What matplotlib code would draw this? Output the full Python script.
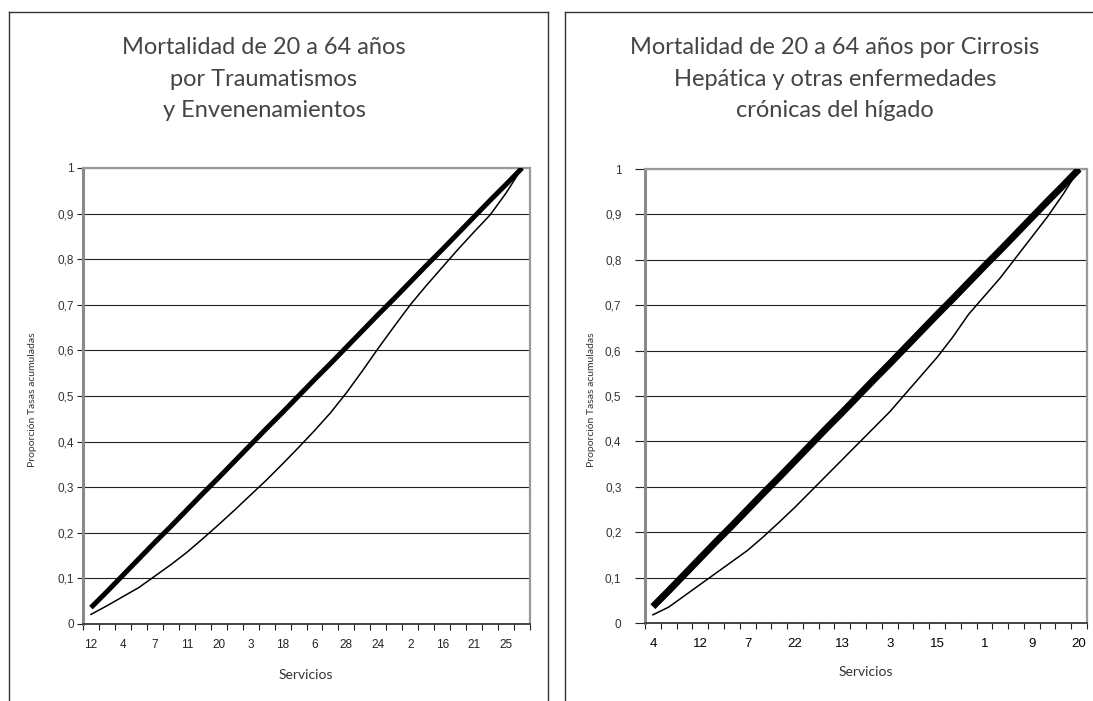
import matplotlib
matplotlib.use("Agg")
import matplotlib.pyplot as plt
from matplotlib.lines import Line2D
import numpy as np

W, H = 1093, 701

# data (28 servicios en cada grafico)
izq_etiquetas = ['12', '4', '7', '11', '20', '3', '18', '6', '28', '24', '2', '16', '21', '25']
izq_pob = [0.036, 0.071, 0.107, 0.143, 0.179, 0.214, 0.25, 0.286, 0.321, 0.357,
           0.393, 0.429, 0.464, 0.5, 0.536, 0.571, 0.607, 0.643, 0.679, 0.714,
           0.75, 0.786, 0.821, 0.857, 0.893, 0.929, 0.964, 1.0]
izq_tasas = [0.021, 0.04, 0.06, 0.08, 0.105, 0.13, 0.157, 0.187, 0.218, 0.25,
             0.283, 0.316, 0.351, 0.387, 0.424, 0.463, 0.507, 0.555, 0.605, 0.653,
             0.70, 0.742, 0.782, 0.822, 0.86, 0.897, 0.945, 1.0]

der_etiquetas = ['4', '12', '7', '22', '13', '3', '15', '1', '9', '20']
der_pob = [0.036, 0.071, 0.107, 0.143, 0.179, 0.214, 0.25, 0.286, 0.321, 0.357,
           0.393, 0.429, 0.464, 0.5, 0.536, 0.571, 0.607, 0.643, 0.679, 0.714,
           0.75, 0.786, 0.821, 0.857, 0.893, 0.929, 0.964, 1.0]
der_tasas = [0.018, 0.035, 0.06, 0.085, 0.11, 0.135, 0.16, 0.19, 0.222, 0.255,
             0.29, 0.325, 0.36, 0.395, 0.43, 0.465, 0.505, 0.545, 0.585, 0.63,
             0.68, 0.72, 0.76, 0.805, 0.85, 0.895, 0.945, 1.0]

yticks = [0, 0.1, 0.2, 0.3, 0.4, 0.5, 0.6, 0.7, 0.8, 0.9, 1]
ylabels = ['0', '0,1', '0,2', '0,3', '0,4', '0,5', '0,6', '0,7', '0,8', '0,9', '1']

titulo_izq = "Mortalidad de 20 a 64 años\npor Traumatismos\ny Envenenamientos"
titulo_der = "Mortalidad de 20 a 64 años por Cirrosis\nHepática y otras enfermedades\ncrónicas del hígado"

narrow = ['Lato', 'DejaVu Sans']
arial = ['Liberation Sans', 'DejaVu Sans']


def fx(x):
    return x / W


def fy(y):
    return 1 - y / H


fig = plt.figure(figsize=(W / 100, H / 100), dpi=100)

# marcos de los paneles
for xs, ys in [([9, 9], [701, 12]), ([9, 548], [12, 12]), ([548, 548], [12, 701]),
               ([565, 565], [701, 12]), ([565, 1093], [12, 12])]:
    fig.add_artist(Line2D([fx(v) for v in xs], [fy(v) for v in ys], color='#333333', lw=1))


def panel(rect, pob, tasas, etiquetas, paso, gruesa, tsize, tcolor, ytl, ypad):
    ax = fig.add_axes(rect)
    n = len(pob)
    x = np.arange(n)
    ax.plot(x, pob, color='black', lw=gruesa, solid_capstyle='butt', zorder=3)
    ax.plot(x, tasas, color='black', lw=1.1, zorder=4)
    ax.set_xlim(-0.5, n - 0.5)
    ax.set_ylim(0, 1)
    ax.set_yticks(yticks)
    ax.set_yticklabels(ylabels, family=arial, fontsize=8.5, color='#333333')
    ax.tick_params(axis='y', length=ytl, width=0.8, color='#222222', pad=ypad)
    ax.set_xticks(x[::paso])
    ax.set_xticklabels(etiquetas, family=arial, fontsize=tsize, color=tcolor)
    ax.set_xticks(np.arange(n + 1) - 0.5, minor=True)
    ax.tick_params(axis='x', which='major', length=0, pad=11)
    ax.tick_params(axis='x', which='minor', length=4, width=0.8, color='#222222', direction='out')
    ax.grid(axis='y', color='#222222', lw=0.8)
    ax.set_axisbelow(True)
    for s in ['top', 'right']:
        ax.spines[s].set_color('#999999')
        ax.spines[s].set_linewidth(1.6)
    ax.spines['left'].set_color('#8a8a8a')
    ax.spines['left'].set_linewidth(2.2)
    ax.spines['bottom'].set_color('#444444')
    ax.spines['bottom'].set_linewidth(1.4)
    return ax


panel([fx(83), fy(624), (530 - 83) / W, (624 - 168) / H], izq_pob, izq_tasas,
      izq_etiquetas, 2, 3.6, 8.5, '#222222', 4.5, 2)
panel([fx(645), fy(623), (1087 - 645) / W, (623 - 169) / H], der_pob, der_tasas,
      der_etiquetas, 3, 5.0, 9.5, 'black', 7, 10)

fig.text(fx(264), fy(79), titulo_izq, ha='center', va='center', family=['Lato', 'DejaVu Sans'],
         fontsize=17, color='#444444', linespacing=1.62)
fig.text(fx(835), fy(79), titulo_der, ha='center', va='center', family=['Lato', 'DejaVu Sans'],
         fontsize=17, color='#444444', linespacing=1.62)

for xp, yp in [(306, 675), (866, 672)]:
    fig.text(fx(xp), fy(yp), 'Servicios', ha='center', va='center', family=narrow,
             fontsize=10, color='#333333')
for xp in [33, 592]:
    fig.text(fx(xp), fy(400), 'Proporción Tasas acumuladas', ha='center', va='center',
             rotation=90, family=narrow, fontsize=7.5, color='#333333')

fig.savefig('out.png', dpi=100)
